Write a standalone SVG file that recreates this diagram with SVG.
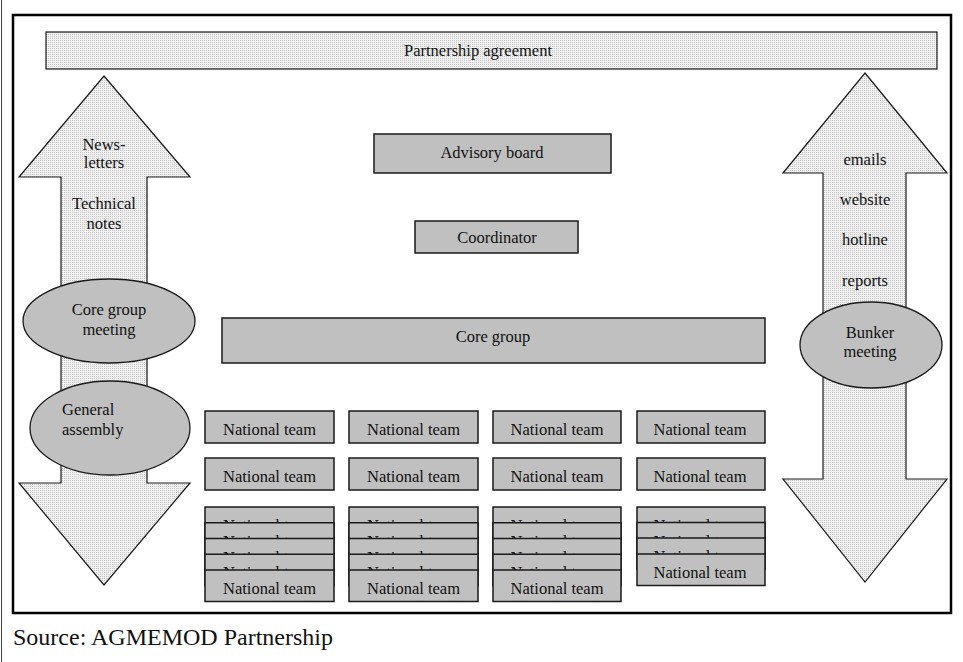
<svg xmlns="http://www.w3.org/2000/svg" width="963" height="662" viewBox="0 0 963 662">
<defs>
<pattern id="dots" width="2" height="2" patternUnits="userSpaceOnUse">
<rect width="2" height="2" fill="#f1f1f1"/>
<rect width="1" height="1" fill="#c4c4c4"/>
</pattern>
<style>
text{font-family:"Liberation Serif","Times New Roman",serif;font-size:16.5px;fill:#111;}
.m{text-anchor:middle;}
.box{fill:#c0c0c0;stroke:#1a1a1a;stroke-width:1.5;}
.pat{fill:url(#dots);stroke:#1a1a1a;stroke-width:1.2;}
.ell{fill:#c0c0c0;stroke:#1a1a1a;stroke-width:1.3;}
</style>
</defs>
<rect width="963" height="662" fill="#fff"/>
<line x1="1.5" y1="0" x2="1.5" y2="662" stroke="#444" stroke-width="1"/>
<rect x="13" y="15" width="938" height="598" fill="none" stroke="#000" stroke-width="2.5"/>

<g id="partnership-agreement">
<rect class="pat" x="46" y="32" width="891" height="37"/>
<text class="m" x="478" y="56">Partnership agreement</text>
</g>

<g id="connectors">
<g id="left-arrow">
<polygon class="pat" points="104,76 190,177 147,177 147,483 190,483 104,585 19,483 61,483 61,177 19,177"/>
<text class="m" x="104" y="150">News-</text>
<text class="m" x="104" y="168">letters</text>
<text class="m" x="104" y="209">Technical</text>
<text class="m" x="104" y="229">notes</text>
</g>
<g id="right-arrow">
<polygon class="pat" points="865,73 947,173 906,173 906,479 947,479 865,582 783,479 823,479 823,173 783,173"/>
<text class="m" x="865" y="165">emails</text>
<text class="m" x="865" y="205">website</text>
<text class="m" x="865" y="245">hotline</text>
<text class="m" x="865" y="286">reports</text>
</g>
</g>

<g id="core-group-meeting">
<ellipse class="ell" cx="109" cy="321" rx="86" ry="42"/>
<text class="m" x="109" y="315">Core group</text>
<text class="m" x="109" y="335">meeting</text>
</g>
<g id="general-assembly">
<ellipse class="ell" cx="110" cy="428" rx="80" ry="47"/>
<text x="62" y="415">General</text>
<text x="62" y="435">assembly</text>
</g>
<g id="bunker-meeting">
<ellipse class="ell" cx="871" cy="345" rx="71" ry="43"/>
<text class="m" x="870" y="338">Bunker</text>
<text class="m" x="870" y="357">meeting</text>
</g>

<g id="advisory-board">
<rect class="box" x="374" y="134" width="237" height="39"/>
<text class="m" x="492" y="158">Advisory board</text>
</g>
<g id="coordinator">
<rect class="box" x="415" y="221" width="163" height="32"/>
<text class="m" x="497" y="243">Coordinator</text>
</g>
<g id="core-group">
<rect class="box" x="222" y="318" width="543" height="45"/>
<text class="m" x="493" y="342">Core group</text>
</g>

<g id="national-teams">
<g id="nt-c1">
<rect class="box" x="205" y="411" width="129" height="32"/><text class="m" x="269.5" y="435">National team</text>
<rect class="box" x="205" y="458" width="129" height="32"/><text class="m" x="269.5" y="482">National team</text>
<rect class="box" x="205" y="507" width="129" height="31.5"/><text class="m" x="269.5" y="531">National team</text>
<rect class="box" x="205" y="522.75" width="129" height="31.5"/><text class="m" x="269.5" y="546.75">National team</text>
<rect class="box" x="205" y="538.5" width="129" height="31.5"/><text class="m" x="269.5" y="562.5">National team</text>
<rect class="box" x="205" y="554.25" width="129" height="31.5"/><text class="m" x="269.5" y="578.25">National team</text>
<rect class="box" x="205" y="570" width="129" height="31.5"/><text class="m" x="269.5" y="594">National team</text>
</g>
<g id="nt-c2">
<rect class="box" x="349" y="411" width="129" height="32"/><text class="m" x="413.5" y="435">National team</text>
<rect class="box" x="349" y="458" width="129" height="32"/><text class="m" x="413.5" y="482">National team</text>
<rect class="box" x="349" y="507" width="129" height="31.5"/><text class="m" x="413.5" y="531">National team</text>
<rect class="box" x="349" y="522.75" width="129" height="31.5"/><text class="m" x="413.5" y="546.75">National team</text>
<rect class="box" x="349" y="538.5" width="129" height="31.5"/><text class="m" x="413.5" y="562.5">National team</text>
<rect class="box" x="349" y="554.25" width="129" height="31.5"/><text class="m" x="413.5" y="578.25">National team</text>
<rect class="box" x="349" y="570" width="129" height="31.5"/><text class="m" x="413.5" y="594">National team</text>
</g>
<g id="nt-c3">
<rect class="box" x="493" y="411" width="128" height="32"/><text class="m" x="557" y="435">National team</text>
<rect class="box" x="493" y="458" width="128" height="32"/><text class="m" x="557" y="482">National team</text>
<rect class="box" x="493" y="507" width="128" height="31.5"/><text class="m" x="557" y="531">National team</text>
<rect class="box" x="493" y="522.75" width="128" height="31.5"/><text class="m" x="557" y="546.75">National team</text>
<rect class="box" x="493" y="538.5" width="128" height="31.5"/><text class="m" x="557" y="562.5">National team</text>
<rect class="box" x="493" y="554.25" width="128" height="31.5"/><text class="m" x="557" y="578.25">National team</text>
<rect class="box" x="493" y="570" width="128" height="31.5"/><text class="m" x="557" y="594">National team</text>
</g>
<g id="nt-c4">
<rect class="box" x="637" y="411" width="128" height="32"/><text class="m" x="700" y="435">National team</text>
<rect class="box" x="637" y="458" width="128" height="32"/><text class="m" x="700" y="482">National team</text>
<rect class="box" x="637" y="507" width="128" height="31.5"/><text class="m" x="700" y="531">National team</text>
<rect class="box" x="637" y="522.5" width="128" height="31.5"/><text class="m" x="700" y="546.5">National team</text>
<rect class="box" x="637" y="538" width="128" height="31.5"/><text class="m" x="700" y="562">National team</text>
<rect class="box" x="637" y="554" width="128" height="31.5"/><text class="m" x="700" y="578">National team</text>
</g>
</g>

<text id="source" x="13" y="645" style="font-size:24px">Source: AGMEMOD Partnership</text>
</svg>
